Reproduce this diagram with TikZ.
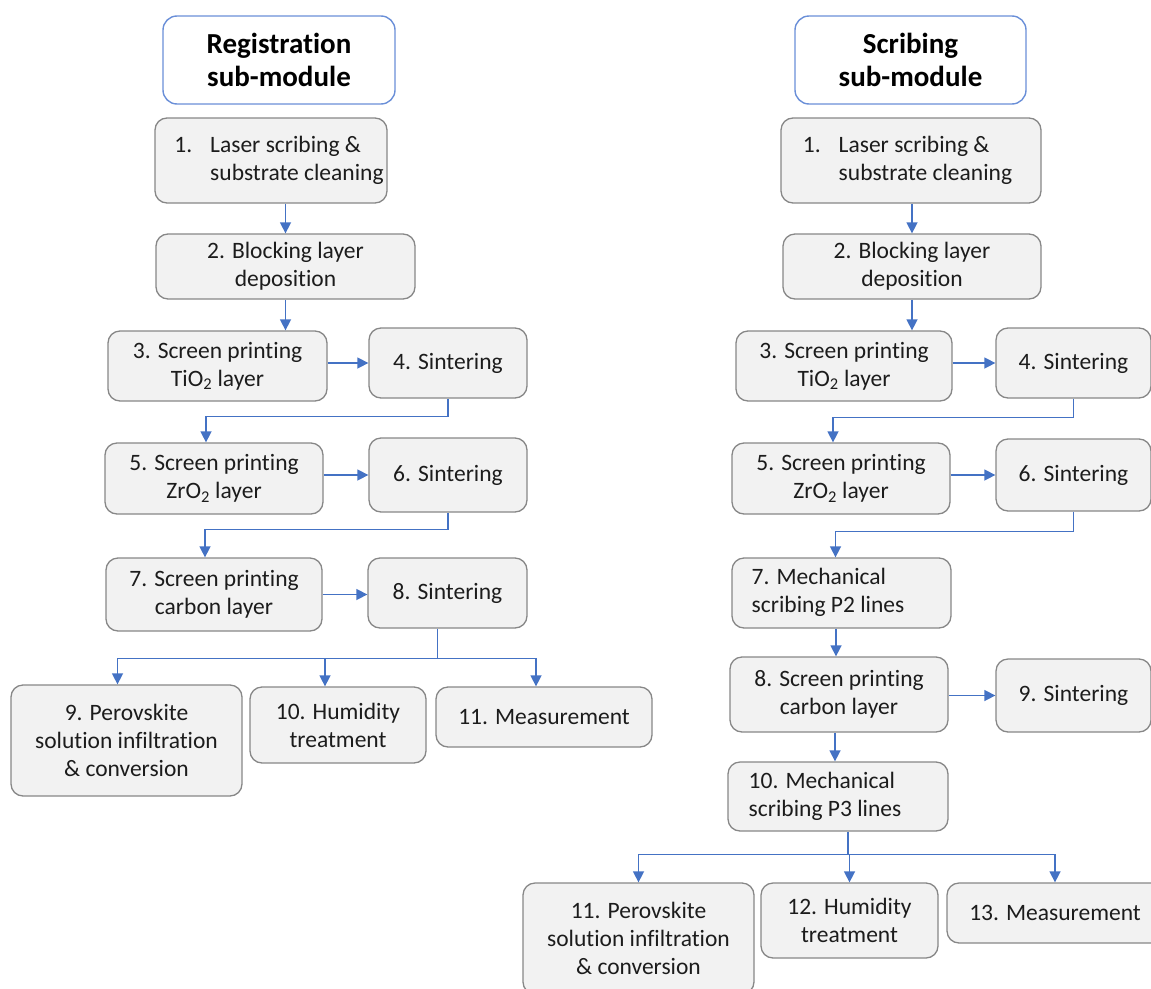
\documentclass[tikz,border=0pt]{standalone}
\usepackage{fontspec}
\setmainfont{Carlito}[Ligatures=NoCommon]
\usetikzlibrary{arrows.meta,calc}
\definecolor{boxfill}{HTML}{F2F2F2}
\definecolor{boxline}{HTML}{878787}
\definecolor{headline}{HTML}{6A8FD8}
\definecolor{arrowblue}{HTML}{4472C4}
\definecolor{txt}{HTML}{1C1C1C}
\newcommand{\lblock}[1]{\begin{tabular}{@{}l@{}}#1\end{tabular}}
\newcommand{\numblock}[3]{\begin{tabular}{@{}l@{\hskip 18pt}l@{}}#1 & #2\\ & #3\end{tabular}}
\begin{document}
\begin{tikzpicture}[x=1pt,y=-1pt,
  stepbox/.style={draw=boxline, fill=boxfill, line width=1.3pt, rounded corners=12pt,
    align=center, inner sep=0pt, text=txt, font=\fontsize{23.5}{28}\selectfont},
  headbox/.style={draw=headline, fill=white, line width=1.4pt, rounded corners=14pt,
    align=center, inner sep=0pt, text=black, font=\fontsize{29}{33}\selectfont\bfseries},
  conn/.style={draw=arrowblue, line width=1.5pt, -{Triangle[length=11pt,width=11pt]}},
  plain/.style={draw=arrowblue, line width=1.5pt}
]
\useasboundingbox (0,0) rectangle (1151,988);
\begin{scope}
\clip (0,0) rectangle (1151,988);

% ---------------- Left column: Registration sub-module ----------------
\node[headbox, minimum width=232pt, minimum height=88pt] (hL) at (279,60) {Registration\\sub-module};
\node[stepbox, minimum width=232pt, minimum height=85pt] (L1) at (271,160.5)
  {\hspace*{16pt}\numblock{1.}{Laser scribing \&}{substrate cleaning}};
\node[stepbox, minimum width=259pt, minimum height=65pt] (L2) at (285.5,266.5) {2. Blocking layer\\deposition};
\node[stepbox, minimum width=219pt, minimum height=70pt] (L3) at (217.5,366) {3. Screen printing\\TiO\textsubscript{2} layer};
\node[stepbox, minimum width=158pt, minimum height=70pt] (L4) at (448,363) {4. Sintering};
\node[stepbox, minimum width=218pt, minimum height=71pt] (L5) at (214,478.5) {5. Screen printing\\ZrO\textsubscript{2} layer};
\node[stepbox, minimum width=158pt, minimum height=74pt] (L6) at (448,475) {6. Sintering};
\node[stepbox, minimum width=216pt, minimum height=73pt] (L7) at (214,594.5) {7. Screen printing\\carbon layer};
\node[stepbox, minimum width=159pt, minimum height=70pt] (L8) at (447.5,593) {8. Sintering};
\node[stepbox, minimum width=231pt, minimum height=111pt] (L9) at (126.5,740.5) {9. Perovskite\\solution infiltration\\\& conversion};
\node[stepbox, minimum width=176pt, minimum height=76pt] (L10) at (338,725) {10. Humidity\\treatment};
\node[stepbox, minimum width=216pt, minimum height=60pt] (L11) at (544,717) {11. Measurement};

\draw[conn] (L2.north |- L1.south) -- (L2.north);
\draw[conn] (L2.south) -- (L2.south |- L3.north);
\draw[conn] (L3.east |- L4.west) -- (L4.west);
\draw[conn] (L4.south) -- ++(0,18) -| ([xshift=-8pt]L5.north);
\draw[conn] (L5.east |- L6.west) -- (L6.west);
\draw[conn] (L6.south) -- ++(0,17) -| ([xshift=-9pt]L7.north);
\draw[conn] (L7.east) -- (L7.east -| L8.west);
\draw[plain] ([xshift=-10pt]L8.south) -- ++(0,30) coordinate (jL);
\draw[conn] (jL) -| ([xshift=-9pt]L9.north);
\draw[conn] (jL) -| ([xshift=-13pt]L10.north);
\draw[conn] (jL) -| ([xshift=-8pt]L11.north);

% ---------------- Right column: Scribing sub-module ----------------
\node[headbox, minimum width=231pt, minimum height=88pt] (hR) at (910.5,60) {Scribing\\sub-module};
\node[stepbox, minimum width=260pt, minimum height=85pt] (R1) at (911,160.5)
  {\numblock{1.}{Laser scribing \&}{substrate cleaning}\hspace*{7pt}};
\node[stepbox, minimum width=258pt, minimum height=65pt] (R2) at (912,266.5) {2. Blocking layer\\deposition};
\node[stepbox, minimum width=216pt, minimum height=70pt] (R3) at (844,366) {3. Screen printing\\TiO\textsubscript{2} layer};
\node[stepbox, minimum width=155pt, minimum height=70pt] (R4) at (1073.5,363) {4. Sintering};
\node[stepbox, minimum width=218pt, minimum height=71pt] (R5) at (841,478.5) {5. Screen printing\\ZrO\textsubscript{2} layer};
\node[stepbox, minimum width=155pt, minimum height=72pt] (R6) at (1073.5,475) {6. Sintering};
\node[stepbox, minimum width=219pt, minimum height=70pt] (R7) at (841.5,593)
  {\lblock{7. Mechanical\\scribing P2 lines}\hspace*{27pt}};
\node[stepbox, minimum width=218pt, minimum height=75pt] (R8) at (839,694.5) {8. Screen printing\\carbon layer};
\node[stepbox, minimum width=155pt, minimum height=73pt] (R9) at (1073.5,695.5) {9. Sintering};
\node[stepbox, minimum width=220pt, minimum height=69pt] (R10) at (838,796.5)
  {\lblock{10. Mechanical\\scribing P3 lines}\hspace*{26pt}};
\node[stepbox, minimum width=231pt, minimum height=111pt] (R11) at (638.5,938.5) {11. Perovskite\\solution infiltration\\\& conversion};
\node[stepbox, minimum width=177pt, minimum height=75pt] (R12) at (849.5,920.5) {12. Humidity\\treatment};
\node[stepbox, minimum width=216pt, minimum height=60pt] (R13) at (1055,913) {13. Measurement};

\draw[conn] (R2.north |- R1.south) -- (R2.north);
\draw[conn] (R2.south) -- (R2.south |- R3.north);
\draw[conn] (R3.east |- R4.west) -- (R4.west);
\draw[conn] (R4.south) -- ++(0,19) -| ([xshift=-8pt]R5.north);
\draw[conn] (R5.east |- R6.west) -- (R6.west);
\draw[conn] (R6.south) -- ++(0,20) -| ([xshift=-6pt]R7.north);
\draw[conn] ([xshift=-3pt]R8.north |- R7.south) -- ([xshift=-3pt]R8.north);
\draw[conn] (R8.east |- R9.west) -- (R9.west);
\draw[conn] ([xshift=-3pt]R10.north |- R8.south) -- ([xshift=-3pt]R10.north);
\draw[plain] ([xshift=10pt]R10.south) -- ++(0,23) coordinate (jR);
\draw[conn] (jR) -| (R11.north);
\draw[conn] (jR) -| (R12.north);
\draw[conn] (jR) -| (R13.north);
\end{scope}
\end{tikzpicture}
\end{document}
